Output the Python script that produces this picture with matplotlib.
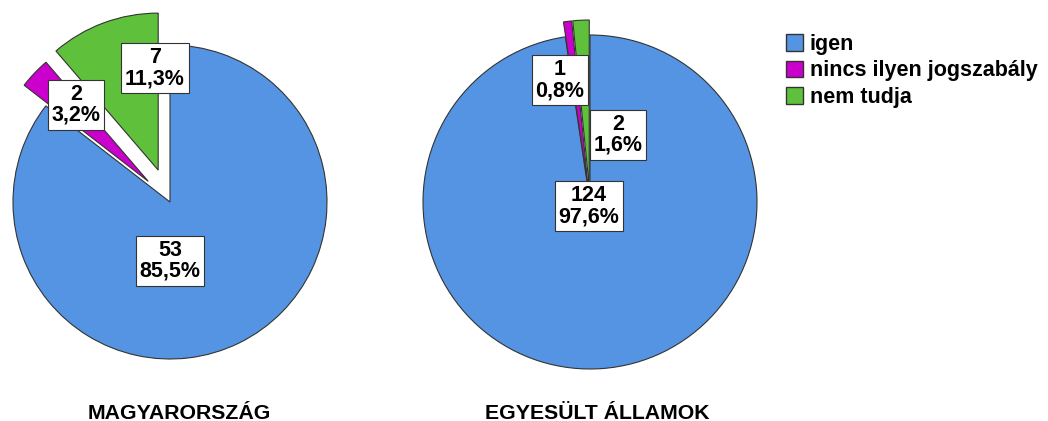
import matplotlib
matplotlib.use("Agg")
import matplotlib.pyplot as plt
from matplotlib.patches import Patch

# %% Data
categories = ["igen", "nincs ilyen jogszabály", "nem tudja"]
hu_counts = [53, 2, 7]
hu_pcts = ["85,5%", "3,2%", "11,3%"]
us_counts = [124, 1, 2]
us_pcts = ["97,6%", "0,8%", "1,6%"]
titles = ["MAGYARORSZÁG", "EGYESÜLT ÁLLAMOK"]

# %% Style
colors = ["#5594E3", "#CC00CC", "#5FC13B"]
EDGE = "#333333"
FS = 15.5
plt.rcParams["font.family"] = ["Liberation Sans", "DejaVu Sans"]
plt.rcParams["font.weight"] = "bold"

W, H = 1048, 421
# pie layout in pixels (y measured from top)
HU_C, HU_R, HU_EXPL = (170, 202), 157, [0, 30, 34]
US_C, US_R, US_EXPL = (590, 202), 167, [0, 15, 15]
# label offsets from pie centre (pixels, y down)
HU_LAB = [(0, 59), (-94, -97), (-15, -134)]
US_LAB = [(-1, 4), (-30, -122), (28, -67)]

fig = plt.figure(figsize=(W / 100, H / 100), dpi=100)
ax = fig.add_axes([0, 0, 1, 1])


def draw_pie(counts, pcts, c, r, expl, lab):
    cx, cy = c[0], H - c[1]
    ax.pie(counts, colors=colors, startangle=90, counterclock=False,
           center=(cx, cy), radius=r, explode=expl,
           wedgeprops=dict(edgecolor=EDGE, linewidth=0.8))
    for n, p, (dx, dy) in zip(counts, pcts, lab):
        ax.text(cx + dx, cy - dy, f"{n}\n{p}", ha="center", va="center",
                fontsize=FS, fontweight="bold", linespacing=1.0,
                bbox=dict(boxstyle="square,pad=0.18", fc="white",
                          ec=EDGE, lw=0.8))


draw_pie(hu_counts, hu_pcts, HU_C, HU_R, HU_EXPL, HU_LAB)
draw_pie(us_counts, us_pcts, US_C, US_R, US_EXPL, US_LAB)

ax.set_xlim(0, W)
ax.set_ylim(0, H)
ax.set_aspect("auto")
ax.axis("off")

fig.text(179.5 / W, 2 / H, titles[0], ha="center", va="baseline",
         fontsize=15.3, fontweight="bold")
fig.text(597 / W, 2 / H, titles[1], ha="center", va="baseline",
         fontsize=15.3, fontweight="bold")

handles = [Patch(facecolor=col, edgecolor=EDGE, linewidth=1.0) for col in colors]
fig.legend(handles, categories, loc="upper left",
           bbox_to_anchor=(786 / W, 1 - 34 / H), frameon=False,
           fontsize=FS, handlelength=0.8, handleheight=0.8,
           handletextpad=0.3, labelspacing=0.25, borderpad=0, borderaxespad=0)

fig.savefig("out.png", dpi=100)
